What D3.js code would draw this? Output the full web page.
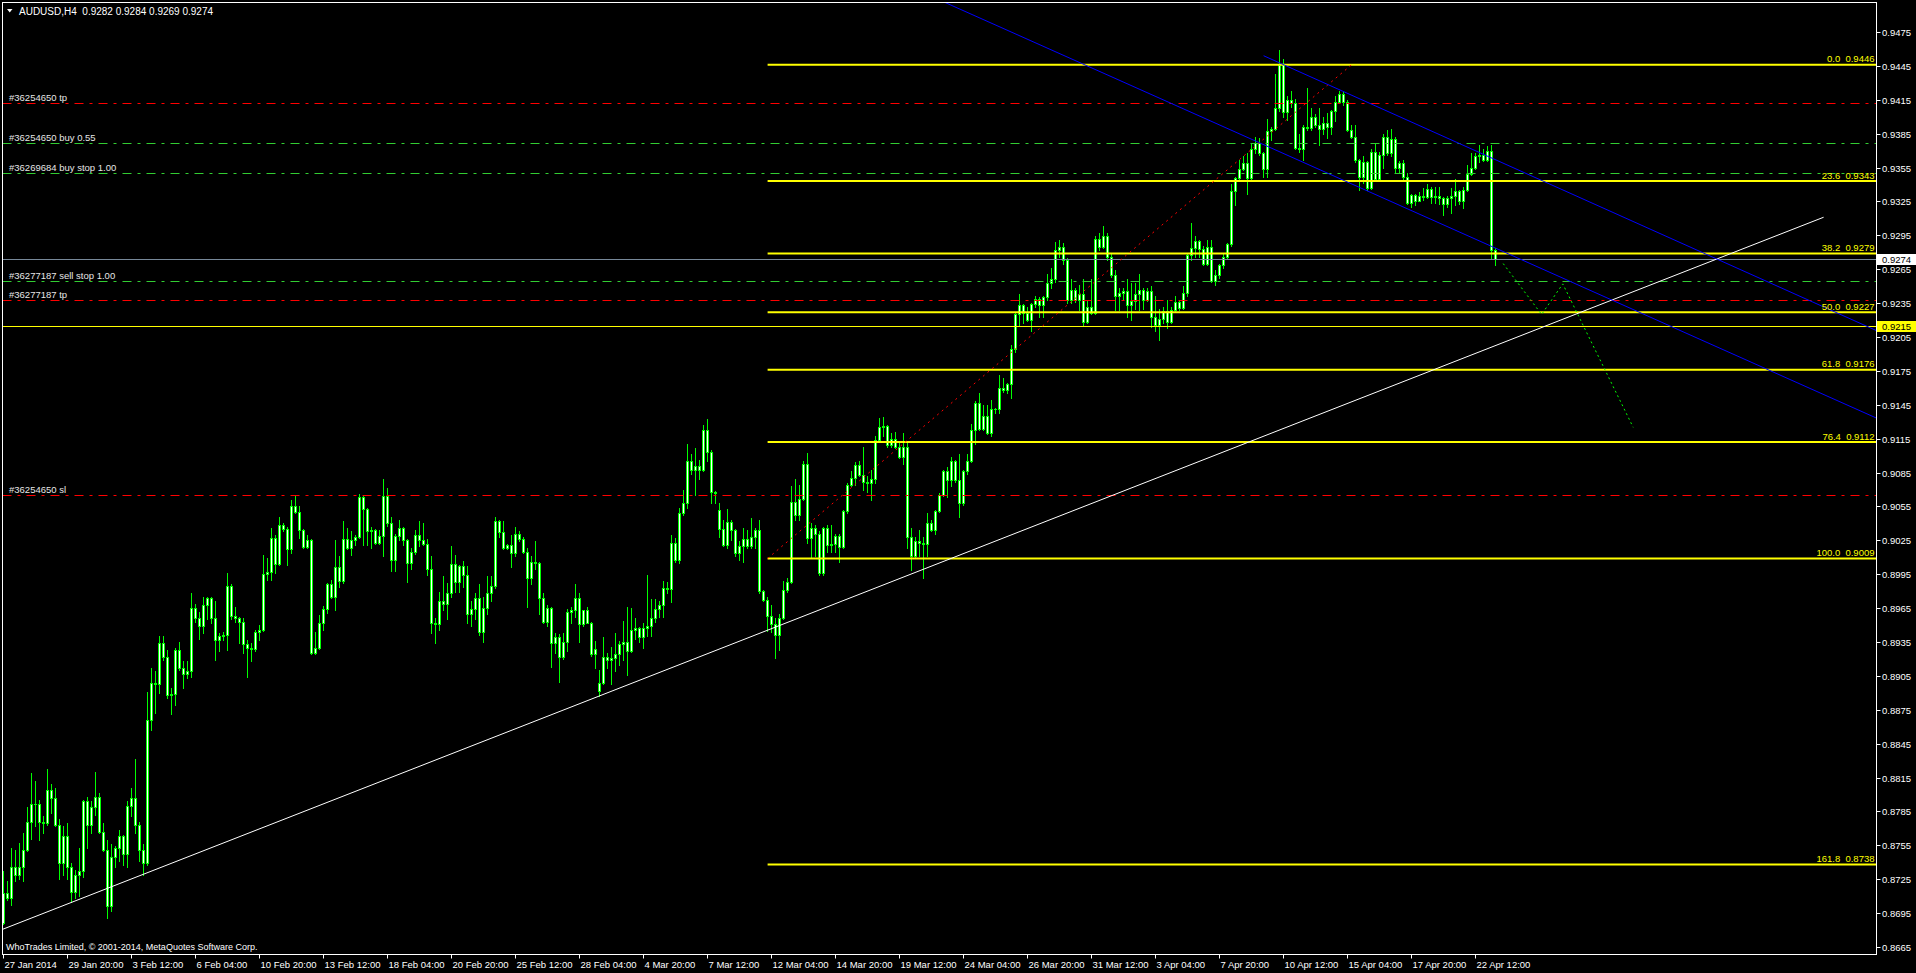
<!DOCTYPE html>
<html><head><meta charset="utf-8">
<script src="https://cdn.jsdelivr.net/npm/d3@7"></script>
<style>
html,body{margin:0;padding:0;background:#000;overflow:hidden}
svg{display:block}
text{font-family:"Liberation Sans",Arial,sans-serif;white-space:pre}
</style></head><body>
<svg id="c" width="1916" height="973"></svg>
<script>
const symbol = "AUDUSD,H4";
const lastOHLC = ["0.9282","0.9284","0.9269","0.9274"];
const copyright = "WhoTrades Limited, \u00a9 2001-2014, MetaQuotes Software Corp.";

const open = [
0.8686,0.8713,0.8708,0.8736,0.8729,0.8736,0.8751,0.8776,0.8792,0.8792,
0.8776,0.8775,0.8804,0.8797,0.8773,0.8739,0.8763,0.8736,0.8714,0.8729,
0.8732,0.8794,0.8773,0.8789,0.8798,0.8767,0.8751,0.8701,0.8745,0.8753,
0.8763,0.8747,0.8790,0.8797,0.8773,0.8751,0.8739,0.8866,0.8899,0.8898,
0.8934,0.8922,0.8888,0.8889,0.8928,0.8912,0.8907,0.8909,0.8965,0.8956,
0.8949,0.8968,0.8974,0.8956,0.8937,0.8940,0.8941,0.8985,0.8958,0.8956,
0.8953,0.8933,0.8930,0.8929,0.8944,0.8946,0.8995,0.8997,0.9027,0.9004,
0.9039,0.9035,0.9017,0.9055,0.9050,0.9034,0.9019,0.9025,0.8925,0.8930,
0.8952,0.8964,0.8986,0.8975,0.9001,0.8989,0.9026,0.9018,0.9025,0.9028,
0.9063,0.9053,0.9033,0.9034,0.9023,0.9029,0.9064,0.9040,0.9008,0.9029,
0.9036,0.9025,0.9005,0.9015,0.9030,0.9025,0.9022,0.9000,0.8952,0.8951,
0.8971,0.8969,0.8978,0.9004,0.8988,0.9002,0.8994,0.8960,0.8964,0.8974,
0.8944,0.8965,0.8978,0.8985,0.9042,0.9032,0.9018,0.9021,0.9014,0.9031,
0.9026,0.9015,0.8992,0.9006,0.9005,0.8974,0.8953,0.8965,0.8934,0.8939,
0.8922,0.8935,0.8962,0.8963,0.8974,0.8951,0.8963,0.8952,0.8924,0.8892,
0.8899,0.8922,0.8919,0.8921,0.8924,0.8933,0.8935,0.8927,0.8946,0.8947,
0.8939,0.8947,0.8949,0.8956,0.8964,0.8968,0.8983,0.8982,0.9023,0.9008,
0.9049,0.9058,0.9095,0.9087,0.9091,0.9087,0.9123,0.9103,0.9068,0.9052,
0.9035,0.9021,0.9041,0.9034,0.9014,0.9020,0.9026,0.9020,0.9028,0.9034,
0.8980,0.8972,0.8958,0.8951,0.8941,0.8956,0.8981,0.8988,0.9059,0.9047,
0.9062,0.9093,0.9027,0.9036,0.9031,0.8996,0.9036,0.9021,0.9022,0.9029,
0.9019,0.9051,0.9074,0.9080,0.9092,0.9083,0.9077,0.9076,0.9079,0.9114,
0.9125,0.9126,0.9109,0.9115,0.9108,0.9099,0.9108,0.9028,0.9011,0.9024,
0.9023,0.9022,0.9040,0.9034,0.9051,0.9065,0.9086,0.9078,0.9095,0.9078,
0.9058,0.9086,0.9095,0.9123,0.9147,0.9124,0.9135,0.9120,0.9141,0.9141,
0.9160,0.9158,0.9163,0.9194,0.9225,0.9233,0.9226,0.9220,0.9234,0.9239,
0.9233,0.9240,0.9253,0.9256,0.9282,0.9285,0.9273,0.9238,0.9247,0.9238,
0.9243,0.9218,0.9232,0.9226,0.9292,0.9285,0.9294,0.9276,0.9260,0.9241,
0.9244,0.9246,0.9233,0.9237,0.9243,0.9247,0.9238,0.9246,0.9223,0.9216,
0.9221,0.9228,0.9218,0.9229,0.9236,0.9231,0.9244,0.9278,0.9284,0.9290,
0.9283,0.9270,0.9285,0.9255,0.9260,0.9269,0.9276,0.9287,0.9334,0.9346,
0.9354,0.9359,0.9346,0.9371,0.9377,0.9368,0.9354,0.9387,0.9389,0.9408,
0.9446,0.9404,0.9415,0.9412,0.9372,0.9371,0.9391,0.9390,0.9400,0.9393,
0.9389,0.9394,0.9391,0.9405,0.9413,0.9420,0.9413,0.9388,0.9382,0.9362,
0.9347,0.9360,0.9337,0.9369,0.9345,0.9366,0.9382,0.9368,0.9380,0.9355,
0.9359,0.9347,0.9324,0.9331,0.9325,0.9330,0.9329,0.9336,0.9329,0.9330,
0.9328,0.9323,0.9328,0.9330,0.9334,0.9325,0.9335,0.9349,0.9355,0.9365,
0.9366,0.9362,0.9370,0.9282];

const high = [
0.8732,0.8723,0.8753,0.8751,0.8757,0.8766,0.8789,0.8819,0.8812,0.8795,
0.8781,0.8823,0.8809,0.8806,0.8778,0.8772,0.8775,0.8739,0.8733,0.8753,
0.8795,0.8798,0.8794,0.8820,0.8801,0.8775,0.8760,0.8756,0.8754,0.8769,
0.8764,0.8794,0.8806,0.8831,0.8776,0.8756,0.8891,0.8912,0.8909,0.8940,
0.8940,0.8928,0.8894,0.8930,0.8935,0.8918,0.8918,0.8978,0.8969,0.8962,
0.8975,0.8975,0.8975,0.8971,0.8943,0.8944,0.8996,0.8986,0.8966,0.8957,
0.8956,0.8937,0.8934,0.8946,0.8950,0.9012,0.9009,0.9036,0.9030,0.9046,
0.9040,0.9037,0.9061,0.9064,0.9055,0.9035,0.9030,0.9026,0.8944,0.8959,
0.8967,0.8987,0.8990,0.9025,0.9011,0.9042,0.9036,0.9033,0.9030,0.9066,
0.9064,0.9054,0.9037,0.9035,0.9034,0.9079,0.9071,0.9046,0.9031,0.9043,
0.9037,0.9026,0.9018,0.9034,0.9042,0.9040,0.9026,0.9011,0.8956,0.8979,
0.8993,0.8987,0.9020,0.9012,0.9003,0.9007,0.9002,0.8971,0.8978,0.8986,
0.8975,0.8993,0.8993,0.9046,0.9043,0.9042,0.9022,0.9030,0.9037,0.9033,
0.9028,0.9018,0.9011,0.9024,0.9006,0.8978,0.8968,0.8966,0.8943,0.8942,
0.8943,0.8964,0.8966,0.8986,0.8978,0.8963,0.8966,0.8953,0.8936,0.8910,
0.8939,0.8925,0.8931,0.8943,0.8936,0.8954,0.8966,0.8965,0.8956,0.8948,
0.8952,0.8994,0.8973,0.8973,0.8971,0.8989,0.8988,0.9030,0.9027,0.9054,
0.9070,0.9110,0.9101,0.9107,0.9096,0.9127,0.9132,0.9105,0.9069,0.9058,
0.9043,0.9053,0.9043,0.9035,0.9024,0.9036,0.9034,0.9045,0.9036,0.9043,
0.8981,0.8975,0.8968,0.8956,0.8960,0.8989,0.8992,0.9073,0.9079,0.9074,
0.9095,0.9102,0.9040,0.9039,0.9033,0.9037,0.9039,0.9039,0.9031,0.9031,
0.9052,0.9076,0.9086,0.9094,0.9095,0.9108,0.9082,0.9087,0.9117,0.9133,
0.9134,0.9127,0.9120,0.9121,0.9111,0.9120,0.9113,0.9036,0.9028,0.9034,
0.9028,0.9049,0.9043,0.9052,0.9067,0.9087,0.9090,0.9099,0.9096,0.9101,
0.9087,0.9101,0.9128,0.9148,0.9155,0.9145,0.9145,0.9149,0.9142,0.9171,
0.9169,0.9164,0.9198,0.9226,0.9243,0.9234,0.9232,0.9235,0.9241,0.9240,
0.9241,0.9261,0.9266,0.9289,0.9291,0.9288,0.9275,0.9256,0.9248,0.9251,
0.9256,0.9238,0.9256,0.9294,0.9297,0.9303,0.9297,0.9279,0.9264,0.9248,
0.9248,0.9256,0.9253,0.9253,0.9261,0.9248,0.9248,0.9250,0.9241,0.9230,
0.9232,0.9238,0.9232,0.9241,0.9237,0.9250,0.9279,0.9306,0.9294,0.9291,
0.9286,0.9291,0.9291,0.9264,0.9270,0.9279,0.9288,0.9340,0.9347,0.9362,
0.9365,0.9368,0.9377,0.9382,0.9381,0.9369,0.9398,0.9391,0.9438,0.9459,
0.9451,0.9418,0.9423,0.9416,0.9385,0.9393,0.9425,0.9408,0.9402,0.9408,
0.9400,0.9403,0.9406,0.9418,0.9423,0.9423,0.9415,0.9393,0.9393,0.9363,
0.9365,0.9361,0.9371,0.9377,0.9369,0.9385,0.9388,0.9389,0.9382,0.9361,
0.9362,0.9350,0.9332,0.9332,0.9333,0.9337,0.9340,0.9338,0.9338,0.9338,
0.9329,0.9330,0.9337,0.9345,0.9335,0.9338,0.9357,0.9368,0.9368,0.9375,
0.9371,0.9374,0.9375,0.9284];

const low = [
0.8685,0.8707,0.8702,0.8723,0.8725,0.8723,0.8750,0.8761,0.8772,0.8760,
0.8766,0.8773,0.8784,0.8772,0.8725,0.8729,0.8725,0.8705,0.8708,0.8710,
0.8727,0.8753,0.8766,0.8782,0.8766,0.8750,0.8691,0.8697,0.8736,0.8741,
0.8738,0.8736,0.8781,0.8766,0.8741,0.8729,0.8738,0.8857,0.8872,0.8890,
0.8919,0.8885,0.8871,0.8879,0.8910,0.8894,0.8903,0.8904,0.8953,0.8938,
0.8943,0.8955,0.8952,0.8919,0.8927,0.8937,0.8928,0.8955,0.8953,0.8934,
0.8925,0.8904,0.8918,0.8927,0.8937,0.8945,0.8990,0.8990,0.8996,0.9003,
0.9033,0.9003,0.9014,0.9049,0.9027,0.9018,0.9018,0.8924,0.8924,0.8929,
0.8946,0.8961,0.8974,0.8963,0.8984,0.8987,0.9017,0.9012,0.9021,0.9027,
0.9021,0.9021,0.9018,0.9022,0.9022,0.9011,0.9038,0.8998,0.8998,0.9025,
0.9021,0.8988,0.9000,0.9013,0.9020,0.9021,0.8994,0.8943,0.8934,0.8946,
0.8963,0.8955,0.8975,0.8979,0.8979,0.8984,0.8952,0.8949,0.8955,0.8941,
0.8935,0.8960,0.8971,0.8983,0.9028,0.9017,0.9017,0.9001,0.9011,0.9024,
0.9014,0.8966,0.8986,0.9000,0.8960,0.8952,0.8949,0.8913,0.8925,0.8900,
0.8920,0.8927,0.8952,0.8957,0.8935,0.8949,0.8952,0.8923,0.8912,0.8887,
0.8898,0.8912,0.8898,0.8909,0.8915,0.8919,0.8906,0.8926,0.8938,0.8935,
0.8930,0.8940,0.8940,0.8953,0.8957,0.8957,0.8978,0.8970,0.9006,0.9005,
0.9047,0.9054,0.9084,0.9065,0.9079,0.9086,0.9095,0.9058,0.9058,0.9028,
0.9020,0.9018,0.9025,0.9011,0.9008,0.9006,0.9018,0.9018,0.9018,0.8978,
0.8971,0.8945,0.8944,0.8921,0.8928,0.8955,0.8979,0.8987,0.9043,0.9043,
0.9061,0.9023,0.9010,0.9011,0.8994,0.8994,0.9015,0.9015,0.9015,0.9006,
0.9018,0.9049,0.9073,0.9074,0.9082,0.9070,0.9068,0.9061,0.9076,0.9113,
0.9117,0.9108,0.9108,0.9107,0.9098,0.9093,0.9018,0.8999,0.9009,0.9011,
0.8992,0.9011,0.9033,0.9031,0.9050,0.9064,0.9063,0.9073,0.9077,0.9046,
0.9056,0.9084,0.9094,0.9110,0.9123,0.9123,0.9119,0.9117,0.9138,0.9138,
0.9156,0.9155,0.9151,0.9192,0.9216,0.9217,0.9219,0.9210,0.9232,0.9223,
0.9223,0.9238,0.9248,0.9254,0.9276,0.9270,0.9235,0.9235,0.9236,0.9229,
0.9216,0.9217,0.9225,0.9225,0.9282,0.9284,0.9273,0.9258,0.9229,0.9229,
0.9239,0.9223,0.9220,0.9230,0.9229,0.9230,0.9237,0.9214,0.9210,0.9202,
0.9217,0.9213,0.9217,0.9227,0.9229,0.9230,0.9241,0.9273,0.9276,0.9276,
0.9269,0.9269,0.9254,0.9251,0.9257,0.9266,0.9275,0.9286,0.9322,0.9344,
0.9353,0.9332,0.9345,0.9368,0.9366,0.9347,0.9347,0.9379,0.9388,0.9405,
0.9400,0.9397,0.9409,0.9371,0.9369,0.9362,0.9388,0.9388,0.9391,0.9375,
0.9385,0.9381,0.9385,0.9396,0.9412,0.9410,0.9387,0.9381,0.9360,0.9335,
0.9341,0.9335,0.9336,0.9344,0.9344,0.9355,0.9366,0.9365,0.9350,0.9350,
0.9345,0.9323,0.9320,0.9322,0.9325,0.9326,0.9328,0.9324,0.9324,0.9323,
0.9313,0.9320,0.9315,0.9322,0.9323,0.9319,0.9334,0.9348,0.9354,0.9360,
0.9361,0.9361,0.9274,0.9269];

const close = [
0.8713,0.8708,0.8736,0.8729,0.8736,0.8751,0.8776,0.8792,0.8792,0.8776,
0.8775,0.8804,0.8797,0.8773,0.8739,0.8763,0.8736,0.8714,0.8729,0.8732,
0.8794,0.8773,0.8789,0.8798,0.8767,0.8751,0.8701,0.8745,0.8753,0.8763,
0.8747,0.8790,0.8797,0.8773,0.8751,0.8739,0.8866,0.8899,0.8898,0.8934,
0.8922,0.8888,0.8889,0.8928,0.8912,0.8907,0.8909,0.8965,0.8956,0.8949,
0.8968,0.8974,0.8956,0.8937,0.8940,0.8941,0.8985,0.8958,0.8956,0.8953,
0.8933,0.8930,0.8929,0.8944,0.8946,0.8995,0.8997,0.9027,0.9004,0.9039,
0.9035,0.9017,0.9055,0.9050,0.9034,0.9019,0.9025,0.8925,0.8930,0.8952,
0.8964,0.8986,0.8975,0.9001,0.8989,0.9026,0.9018,0.9025,0.9028,0.9063,
0.9053,0.9033,0.9034,0.9023,0.9029,0.9064,0.9040,0.9008,0.9029,0.9036,
0.9025,0.9005,0.9015,0.9030,0.9025,0.9022,0.9000,0.8952,0.8951,0.8971,
0.8969,0.8978,0.9004,0.8988,0.9002,0.8994,0.8960,0.8964,0.8974,0.8944,
0.8965,0.8978,0.8985,0.9042,0.9032,0.9018,0.9021,0.9014,0.9031,0.9026,
0.9015,0.8992,0.9006,0.9005,0.8974,0.8953,0.8965,0.8934,0.8939,0.8922,
0.8935,0.8962,0.8963,0.8974,0.8951,0.8963,0.8952,0.8924,0.8929,0.8899,
0.8922,0.8919,0.8921,0.8924,0.8933,0.8935,0.8927,0.8946,0.8947,0.8939,
0.8947,0.8949,0.8956,0.8964,0.8968,0.8983,0.8982,0.9023,0.9008,0.9049,
0.9058,0.9095,0.9087,0.9091,0.9087,0.9123,0.9103,0.9068,0.9067,0.9035,
0.9021,0.9041,0.9034,0.9014,0.9020,0.9026,0.9020,0.9028,0.9034,0.8980,
0.8972,0.8958,0.8951,0.8941,0.8956,0.8981,0.8988,0.9059,0.9047,0.9062,
0.9093,0.9027,0.9036,0.9031,0.8996,0.9036,0.9021,0.9022,0.9029,0.9019,
0.9051,0.9074,0.9080,0.9092,0.9083,0.9077,0.9076,0.9079,0.9114,0.9125,
0.9126,0.9109,0.9115,0.9108,0.9099,0.9108,0.9028,0.9011,0.9024,0.9023,
0.9022,0.9040,0.9034,0.9051,0.9065,0.9086,0.9078,0.9095,0.9078,0.9058,
0.9086,0.9095,0.9123,0.9147,0.9124,0.9135,0.9120,0.9141,0.9141,0.9160,
0.9158,0.9163,0.9194,0.9225,0.9233,0.9226,0.9220,0.9234,0.9239,0.9233,
0.9240,0.9253,0.9256,0.9282,0.9285,0.9273,0.9238,0.9247,0.9238,0.9243,
0.9218,0.9232,0.9226,0.9292,0.9285,0.9294,0.9276,0.9260,0.9241,0.9244,
0.9246,0.9233,0.9237,0.9243,0.9247,0.9238,0.9246,0.9223,0.9216,0.9221,
0.9228,0.9218,0.9229,0.9236,0.9231,0.9244,0.9278,0.9284,0.9290,0.9283,
0.9270,0.9285,0.9255,0.9260,0.9269,0.9276,0.9287,0.9334,0.9346,0.9354,
0.9359,0.9346,0.9371,0.9377,0.9368,0.9354,0.9387,0.9389,0.9408,0.9446,
0.9404,0.9415,0.9412,0.9372,0.9371,0.9391,0.9390,0.9400,0.9393,0.9389,
0.9394,0.9391,0.9405,0.9413,0.9420,0.9413,0.9388,0.9382,0.9362,0.9347,
0.9360,0.9337,0.9369,0.9345,0.9366,0.9382,0.9368,0.9380,0.9355,0.9359,
0.9347,0.9324,0.9331,0.9325,0.9330,0.9329,0.9336,0.9329,0.9330,0.9328,
0.9323,0.9328,0.9330,0.9334,0.9325,0.9335,0.9349,0.9355,0.9365,0.9366,
0.9362,0.9370,0.9282,0.9274];

const timeLabels = ["27 Jan 2014","29 Jan 20:00","3 Feb 12:00","6 Feb 04:00","10 Feb 20:00","13 Feb 12:00",
"18 Feb 04:00","20 Feb 20:00","25 Feb 12:00","28 Feb 04:00","4 Mar 20:00","7 Mar 12:00","12 Mar 04:00",
"14 Mar 20:00","19 Mar 12:00","24 Mar 04:00","26 Mar 20:00","31 Mar 12:00","3 Apr 04:00","7 Apr 20:00",
"10 Apr 12:00","15 Apr 04:00","17 Apr 20:00","22 Apr 12:00"];
const barsPerTimeLabel = 16;

const priceTicks = [0.9475,0.9445,0.9415,0.9385,0.9355,0.9325,0.9295,0.9265,0.9235,0.9205,0.9175,0.9145,
0.9115,0.9085,0.9055,0.9025,0.8995,0.8965,0.8935,0.8905,0.8875,0.8845,0.8815,0.8785,0.8755,0.8725,0.8695,0.8665];

const fibLevels = [0.0, 23.6, 38.2, 50.0, 61.8, 76.4, 100.0, 161.8];
const fibPrices = [0.9446, 0.9343, 0.9279, 0.9227, 0.9176, 0.9112, 0.9009, 0.8738];
const fibAnchors = [{bar:191, price:0.9009},{bar:337, price:0.9446}];

const orderLabels = ["#36254650 tp","#36254650 buy 0.55","#36269684 buy stop 1.00","#36277187 sell stop 1.00","#36277187 tp","#36254650 sl"];
const orderPrices = [0.9412, 0.9377, 0.9350, 0.9255, 0.9238, 0.9065];
const orderKinds = ["stop","order","order","order","stop","stop"];

const bidPrice = 0.9274;
const alertPrice = 0.9215;

const whiteTrend = [{bar:0, price:0.8681},{bar:455, price:0.9311}];
const channelLower = [{bar:300, price:0.9399},{bar:400, price:0.9241}];
const channelUpper = [{bar:315, price:0.9454},{bar:400, price:0.9319}];
const projection = [{bar:374.9, price:0.9270},{bar:384.5, price:0.9225},{bar:389.8, price:0.9252},{bar:407.4, price:0.9125}];

// ---------- drawing ----------
const W = 1916, H = 973;
const L = 2.5, R = 1876.5, T = 2.5, B = 954.5;
const svg = d3.select("#c");
svg.append("rect").attr("width", W).attr("height", H).attr("fill", "#000");

const x = d3.scaleLinear().domain([0, 468]).range([3.6, 3.6 + 4 * 468]);
const y = d3.scaleLinear().domain([0.8665, 0.9475]).range([947, 32]);
const px = k => Math.floor(x(k)) + 0.5;
const py = p => Math.round(y(p));

svg.append("defs").append("clipPath").attr("id", "plot")
  .append("rect").attr("x", L).attr("y", T).attr("width", R - L).attr("height", B - T);
const plot = svg.append("g").attr("clip-path", "url(#plot)");

const LIME = "#00ff00";
const bars = plot.append("g").selectAll("g").data(d3.range(close.length)).join("g");
bars.append("rect")
  .attr("x", k => px(k) - 0.5).attr("width", 1)
  .attr("y", k => py(high[k]))
  .attr("height", k => Math.max(1, py(low[k]) - py(high[k]) + 1))
  .attr("fill", LIME);
bars.append("rect")
  .attr("x", k => px(k) - 1.5).attr("width", 3)
  .attr("y", k => py(Math.max(open[k], close[k])))
  .attr("height", k => Math.max(1, py(Math.min(open[k], close[k])) - py(Math.max(open[k], close[k])) + 1))
  .attr("fill", LIME);
bars.filter(k => py(Math.min(open[k], close[k])) - py(Math.max(open[k], close[k])) >= 2)
  .append("rect")
  .attr("x", k => px(k) - 0.5).attr("width", 1)
  .attr("y", k => py(Math.max(open[k], close[k])) + 1)
  .attr("height", k => py(Math.min(open[k], close[k])) - py(Math.max(open[k], close[k])) - 1)
  .attr("fill", "#ffffff");

const objs = plot.append("g");
const hline = (p, color, dash, width) => objs.append("line")
  .attr("x1", L).attr("x2", R).attr("y1", py(p) + 0.5).attr("y2", py(p) + 0.5)
  .attr("stroke", color).attr("stroke-width", width || 1).attr("stroke-dasharray", dash || null);

// order lines
orderPrices.forEach((p, i) => hline(p, orderKinds[i] === "stop" ? "#ff0000" : "#32cd32", "9,6,3,6"));
// bid & alert
hline(bidPrice, "#778899");
hline(alertPrice, "#ffff00");

// fib
const fibX0 = x(fibAnchors[0].bar);
objs.selectAll(".fib").data(fibPrices).join("line")
  .attr("x1", fibX0).attr("x2", R)
  .attr("y1", p => y(p)).attr("y2", p => y(p))
  .attr("stroke", "#ffff00").attr("stroke-width", 2);
objs.append("line")
  .attr("x1", x(fibAnchors[0].bar)).attr("y1", y(fibAnchors[0].price))
  .attr("x2", x(fibAnchors[1].bar)).attr("y2", y(fibAnchors[1].price))
  .attr("stroke", "#ff0000").attr("stroke-dasharray", "2,4");

// trendlines
const extend = (a, b, k) => a.price + (b.price - a.price) * (k - a.bar) / (b.bar - a.bar);
objs.append("line")
  .attr("x1", x(whiteTrend[0].bar) - 1).attr("y1", y(extend(whiteTrend[0], whiteTrend[1], -0.25)))
  .attr("x2", x(whiteTrend[1].bar)).attr("y2", y(whiteTrend[1].price))
  .attr("stroke", "#ffffff");
const kRight = x.invert(R + 2);
objs.append("line")
  .attr("x1", x(200)).attr("y1", y(extend(channelLower[0], channelLower[1], 200)))
  .attr("x2", x(kRight)).attr("y2", y(extend(channelLower[0], channelLower[1], kRight)))
  .attr("stroke", "#0000ff");
objs.append("line")
  .attr("x1", x(channelUpper[0].bar)).attr("y1", y(channelUpper[0].price))
  .attr("x2", x(kRight)).attr("y2", y(extend(channelUpper[0], channelUpper[1], kRight)))
  .attr("stroke", "#0000ff");
objs.append("path")
  .attr("d", d3.line().x(d => x(d.bar)).y(d => y(d.price))(projection))
  .attr("fill", "none").attr("stroke", "#00ff00").attr("stroke-dasharray", "2,3");

// labels
const FS = 9.5;
const labels = svg.append("g").attr("font-size", FS);
orderLabels.forEach((t, i) => labels.append("text").attr("x", 9).attr("y", py(orderPrices[i]) - 2.5)
  .attr("fill", "#e6e6e6").text(t));
fibLevels.forEach((lv, i) => labels.append("text").attr("x", R - 2).attr("y", y(fibPrices[i]) - 2.5)
  .attr("text-anchor", "end").attr("fill", "#ffff00")
  .text(lv.toFixed(1) + "  " + fibPrices[i].toFixed(4)));

// header
svg.append("path").attr("d", "M7,9 L12.5,9 L9.75,12.5 Z").attr("fill", "#fff");
svg.append("text").attr("x", 19).attr("y", 14.5).attr("font-size", FS + 0.5).attr("fill", "#fff")
  .text(symbol + "  " + lastOHLC.join(" "));
svg.append("text").attr("x", 6).attr("y", 950).attr("font-size", FS - 0.5).attr("fill", "#fff").text(copyright);

// frame
svg.append("rect").attr("x", L).attr("y", T).attr("width", R - L).attr("height", B - T)
  .attr("fill", "none").attr("stroke", "#fff");

// price axis
const pa = svg.append("g").attr("font-size", FS).attr("fill", "#fff");
priceTicks.forEach(p => {
  const yy = py(p) + 0.5;
  pa.append("line").attr("x1", R).attr("x2", R + 4).attr("y1", yy).attr("y2", yy).attr("stroke", "#fff");
  pa.append("text").attr("x", 1882).attr("y", yy + 3.5).text(p.toFixed(4));
});
const box = (p, bg) => {
  const yy = py(p) + 0.5;
  pa.append("rect").attr("x", R + 0.5).attr("y", yy - 5.5).attr("width", W - R).attr("height", 11).attr("fill", bg);
  pa.append("text").attr("x", 1882).attr("y", yy + 3.5).attr("fill", "#000").text(p.toFixed(4));
};
box(bidPrice, "#ffffff");
box(alertPrice, "#ffff00");

// time axis
const ta = svg.append("g").attr("font-size", FS).attr("fill", "#fff");
timeLabels.forEach((t, i) => {
  const xx = px(i * barsPerTimeLabel);
  ta.append("line").attr("x1", xx).attr("x2", xx).attr("y1", B).attr("y2", B + 4).attr("stroke", "#fff");
  ta.append("text").attr("x", xx + 1).attr("y", 968).text(t);
});
</script>
</body></html>
